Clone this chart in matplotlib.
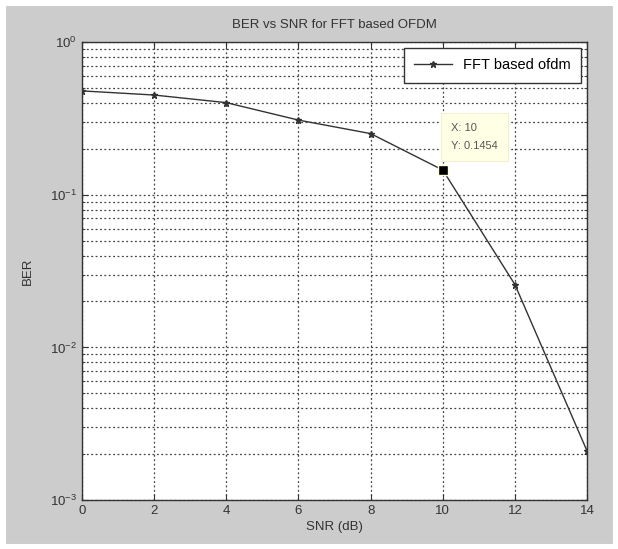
import numpy as np
import matplotlib.pyplot as plt
from matplotlib.patches import Rectangle

plt.rcParams['font.family'] = ['Liberation Sans', 'DejaVu Sans']

# data
snr_db = [0, 2, 4, 6, 8, 10, 12, 14]
ber = [0.48, 0.451, 0.402, 0.309, 0.252, 0.1454, 0.0258, 0.00209]
tip_x = 10
tip_y = 0.1454
x_ticks = [0, 2, 4, 6, 8, 10, 12, 14]

fig = plt.figure(figsize=(6.18, 5.49), dpi=100, facecolor='#cccccc')
# thin white border around the screenshot
fig.add_artist(Rectangle((0, 0), 1, 1, transform=fig.transFigure, fill=False,
                         edgecolor='white', linewidth=8))

ax = fig.add_axes([0.1327, 0.0893, 0.8173, 0.8337])
ax.set_facecolor('white')

ax.semilogy(snr_db, ber, color='#333333', linewidth=1.0, marker='*',
            markersize=5, label='FFT based ofdm')

# data tip
ax.plot([tip_x], [tip_y], marker='s', color='black', markersize=7,
        markeredgecolor='#ffffe0', markeredgewidth=1, linestyle='none')
ax.annotate('X: 10\nY: 0.1454', xy=(tip_x, tip_y), xytext=(6, 14),
            textcoords='offset points', fontsize=8, color='#555555',
            linespacing=2.0, va='bottom', ha='left',
            bbox=dict(boxstyle='square,pad=0.9', facecolor='#ffffe6',
                      edgecolor='#f0f0d0', linewidth=0.8))

ax.set_xlim(0, 14)
ax.set_ylim(1e-3, 1)
ax.set_xticks(x_ticks)
ax.set_xticklabels([str(t) for t in x_ticks])

grid_style = dict(linestyle=(0, (1.5, 2.0)), color='#444444', linewidth=0.9)
ax.grid(True, which='major', axis='both', **grid_style)
ax.grid(True, which='minor', axis='y', **grid_style)
ax.tick_params(which='both', direction='in', labelsize=9.5, colors='#333333',
               top=True, right=True)
ax.tick_params(which='major', length=4)
ax.tick_params(which='minor', length=2)
for s in ax.spines.values():
    s.set_color('#333333')
    s.set_linewidth(1.0)

ax.set_title('BER vs SNR for FFT based OFDM', fontsize=9.5, color='#333333', pad=10)
ax.set_xlabel('SNR (dB)', fontsize=9.5, color='#333333', labelpad=3)
ax.set_ylabel('BER', fontsize=9.5, color='#333333', labelpad=12)

leg = ax.legend(loc='upper right', fontsize=10.5, fancybox=False, framealpha=1,
                borderaxespad=0.4, handlelength=2.6, borderpad=0.7)
leg.get_frame().set_edgecolor('#333333')
leg.get_frame().set_linewidth(1.0)

fig.savefig('out.png', dpi=100, facecolor=fig.get_facecolor())
